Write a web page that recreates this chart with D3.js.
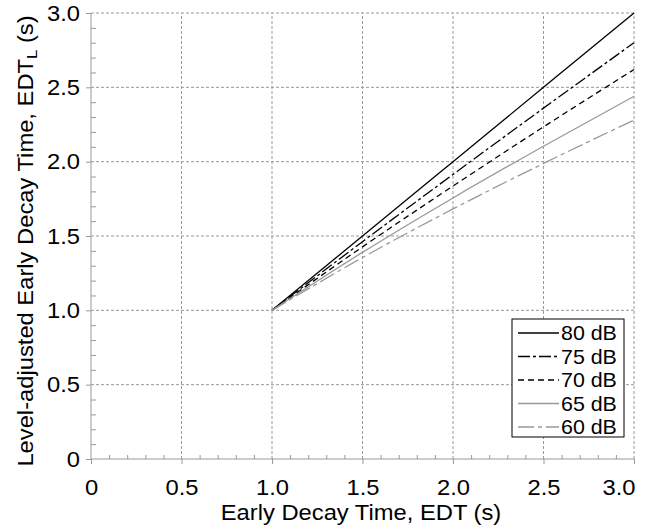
<!DOCTYPE html>
<html><head><meta charset="utf-8">
<script src="https://cdn.jsdelivr.net/npm/d3@7"></script>
<style>body{margin:0;background:#fff;} text{font-family:"Liberation Sans",Arial,sans-serif;}</style>
</head><body>
<svg id="c" width="648" height="529"></svg>
<script>
const edt = [1.0, 1.5, 2.0, 2.5, 3.0];
const seriesNames = ["80 dB", "75 dB", "70 dB", "65 dB", "60 dB"];
const s80 = [1.0, 1.5, 2.0, 2.5, 3.0];
const s75 = [1.0, 1.462, 1.914, 2.36, 2.80];
const s70 = [1.0, 1.427, 1.836, 2.234, 2.62];
const s65 = [1.0, 1.39, 1.756, 2.104, 2.44];
const s60 = [1.0, 1.355, 1.682, 1.988, 2.28];
const xTicks = [0, 0.5, 1.0, 1.5, 2.0, 2.5, 3.0];
const xTickLabels = ["0", "0.5", "1.0", "1.5", "2.0", "2.5", "3.0"];
const yTicks = [0, 0.5, 1.0, 1.5, 2.0, 2.5, 3.0];
const yTickLabels = ["0", "0.5", "1.0", "1.5", "2.0", "2.5", "3.0"];

const styles = [
  {color:"#000", dash:null},
  {color:"#000", dash:"12,3,3,3"},
  {color:"#000", dash:"6,4"},
  {color:"#999", dash:null},
  {color:"#999", dash:"16,4,4,4"}
];
const allSeries = [s80, s75, s70, s65, s60];

const SX = 1.08; // slight horizontal text stretch seen in the reference
const svg = d3.select("#c");
const L = 91, R = 634, T = 13, B = 459;
const x = d3.scaleLinear().domain([0,3]).range([L,R]);
const y = d3.scaleLinear().domain([0,3]).range([B,T]);
const axisColor = "#999";

// gridlines
const g = svg.append("g");
xTicks.filter(v=>v>0).forEach(v=>{
  g.append("line").attr("x1",x(v)).attr("x2",x(v)).attr("y1",y(0)).attr("y2",y(3))
   .attr("stroke",axisColor).attr("stroke-width",1).attr("stroke-dasharray","3,2");
});
yTicks.filter(v=>v>0).forEach(v=>{
  g.append("line").attr("x1",x(0)).attr("x2",x(3)).attr("y1",y(v)).attr("y2",y(v))
   .attr("stroke",axisColor).attr("stroke-width",1).attr("stroke-dasharray","3,2");
});

// minor ticks (inward)
const minor = d3.range(0, 3.001, 0.1).map(v=>+v.toFixed(1)).filter(v=>Math.round(v*10)%5!==0);
const xa = d3.axisTop(x).tickValues(minor).tickSize(4).tickFormat("");
svg.append("g").attr("transform",`translate(0,${B})`).call(xa)
  .call(s=>{s.select(".domain").remove(); s.selectAll("line").attr("stroke",axisColor);});
const ya = d3.axisRight(y).tickValues(minor).tickSize(5).tickFormat("");
svg.append("g").attr("transform",`translate(${L},0)`).call(ya)
  .call(s=>{s.select(".domain").remove(); s.selectAll("line").attr("stroke",axisColor);});

// major axes
const xAxis = d3.axisBottom(x).tickValues(xTicks).tickSize(5).tickPadding(15)
  .tickFormat((d,i)=>xTickLabels[i]);
svg.append("g").attr("transform",`translate(0,${B})`).call(xAxis)
  .call(s=>{
    s.select(".domain").attr("stroke",axisColor).attr("d",`M${L},0H${R}`);
    s.selectAll("line").attr("stroke",axisColor);
    s.selectAll("text").attr("font-size",22).attr("fill","#000")
      .attr("font-family","Liberation Sans, Arial, sans-serif")
      .attr("transform",`scale(${SX},1)`);
    s.selectAll("text").filter(d=>d===3).attr("text-anchor","end").attr("x",1/SX);
  });
const yAxis = d3.axisLeft(y).tickValues(yTicks).tickSize(5).tickPadding(6)
  .tickFormat((d,i)=>yTickLabels[i]);
svg.append("g").attr("transform",`translate(${L},0)`).call(yAxis)
  .call(s=>{
    s.select(".domain").attr("stroke",axisColor).attr("d",`M0,${B}V${T}`);
    s.selectAll("line").attr("stroke",axisColor);
    s.selectAll("text").attr("font-size",22).attr("fill","#000")
      .attr("font-family","Liberation Sans, Arial, sans-serif")
      .attr("x",-11/SX).attr("transform",`scale(${SX},1)`);
  });

// series
const line = d3.line().x((d,i)=>x(edt[i])).y(d=>y(d)).curve(d3.curveMonotoneX);
allSeries.forEach((s,i)=>{
  svg.append("path").datum(s).attr("d",line).attr("fill","none")
    .attr("stroke",styles[i].color).attr("stroke-width",1.3)
    .attr("stroke-dasharray",styles[i].dash);
});

// legend
const lg = svg.append("g");
lg.append("rect").attr("x",512).attr("y",319).attr("width",112).attr("height",118)
  .attr("fill","#fff").attr("stroke","#000").attr("stroke-width",1);
seriesNames.forEach((n,i)=>{
  const yy = 333 + i*23.5;
  lg.append("line").attr("x1",518).attr("x2",559).attr("y1",yy).attr("y2",yy)
    .attr("stroke",styles[i].color).attr("stroke-width",1.3).attr("stroke-dasharray",styles[i].dash);
  lg.append("text").attr("transform",`translate(561,${yy}) scale(${SX},1)`)
    .attr("dy","0.36em").attr("font-size",19.8).text(n);
});

// axis titles
svg.append("text").attr("transform",`translate(361,520) scale(${SX},1)`).attr("text-anchor","middle")
  .attr("font-size",22).text("Early Decay Time, EDT (s)");
const yt = svg.append("text").attr("transform",`translate(33,241) rotate(-90) scale(${SX},1)`)
  .attr("text-anchor","middle").attr("font-size",22);
yt.append("tspan").text("Level-adjusted Early Decay Time, EDT");
yt.append("tspan").attr("font-size",15.5).attr("dy",4).text("L");
yt.append("tspan").attr("dy",-4).text(" (s)");
</script>
</body></html>
